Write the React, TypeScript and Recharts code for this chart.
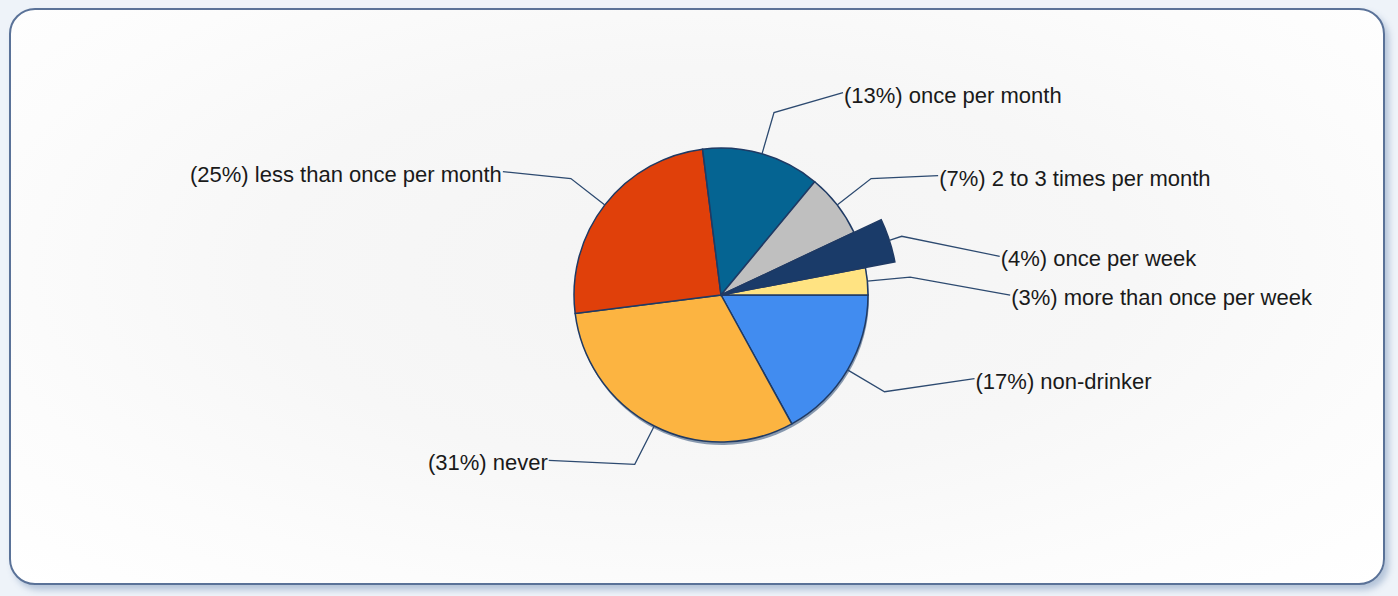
import { PieChart, Pie, Cell } from 'recharts';

const categories = [
  'non-drinker',
  'never',
  'less than once per month',
  'once per month',
  '2 to 3 times per month',
  'once per week',
  'more than once per week',
];
const percents = [17, 31, 25, 13, 7, 4, 3];
const colors = ['#418CF0', '#FCB441', '#E0400A', '#056492', '#BFBFBF', '#1A3B69', '#FFE382'];

// exploded slice drawn with a longer radius
const explodedIndex = 5;

// where each label's leader ends, relative to its elbow point
const labelOffsets: [number, number][] = [
  [90, -13],
  [-86, -4],
  [-68, -7],
  [69, -20],
  [67, -3],
  [98, 20],
  [100, 18],
];

const data = categories.map((name, i) => ({ name, value: percents[i] }));

const RAD = Math.PI / 180;
const OUTER = 147;
const EXPLODED_OUTER = 177;
const NO_MARGIN = { top: 0, right: 0, bottom: 0, left: 0 };

function point(cx: number, cy: number, r: number, angle: number) {
  return [cx + r * Math.cos(-angle * RAD), cy + r * Math.sin(-angle * RAD)];
}

function renderLabel(props: any) {
  const { cx, cy, midAngle, index } = props;
  const startR = index === explodedIndex ? EXPLODED_OUTER : OUTER;
  const [sx, sy] = point(cx, cy, startR, midAngle);
  const [ex, ey] = point(cx, cy, OUTER + 43, midAngle);
  const [dx, dy] = labelOffsets[index];
  const tx = ex + dx;
  const ty = ey + dy;
  const right = dx > 0;
  return (
    <g key={`lbl-${index}`}>
      <polyline
        points={`${sx},${sy} ${ex},${ey} ${tx},${ty}`}
        fill="none"
        stroke="#2d4a70"
        strokeWidth={1.3}
      />
      <text
        x={right ? tx + 1 : tx - 1}
        y={ty + 2.5}
        textAnchor={right ? 'start' : 'end'}
        dominantBaseline="central"
        fontFamily="'Liberation Sans', Arial, sans-serif"
        fontSize={22}
        fill="#1a1a1a"
      >
        {`(${percents[index]}%) ${categories[index]}`}
      </text>
    </g>
  );
}

export default function App() {
  return (
    <div
      style={{
        position: 'absolute',
        left: 0,
        top: 0,
        width: 1398,
        height: 596,
        background: '#eef3f9',
        overflow: 'hidden',
      }}
    >
      <div
        style={{
          position: 'absolute',
          left: 9,
          top: 8,
          width: 1372,
          height: 573,
          border: '2px solid #5a7298',
          borderRadius: 26,
          background:
            'radial-gradient(ellipse at 50% 45%, #f4f4f4 0%, #f7f7f7 45%, #fcfcfc 75%, #ffffff 100%)',
          boxShadow: '4px 5px 6px rgba(110,140,180,0.45)',
        }}
      />
      <div style={{ position: 'absolute', left: 0, top: 0 }}>
        <PieChart width={1398} height={596} margin={NO_MARGIN}>
          {/* soft rim below the pie */}
          <Pie
            data={data}
            dataKey="value"
            cx={722}
            cy={298}
            outerRadius={OUTER}
            startAngle={0}
            endAngle={-360}
            stroke="none"
            isAnimationActive={false}
          >
            {data.map((_, i) => (
              <Cell key={`s-${i}`} fill={i === explodedIndex ? 'none' : '#2b4a72'} fillOpacity={0.55} />
            ))}
          </Pie>
          <Pie
            data={data}
            dataKey="value"
            cx={721}
            cy={295}
            outerRadius={OUTER}
            startAngle={0}
            endAngle={-360}
            stroke="#1f3a64"
            strokeWidth={1.5}
            labelLine={false}
            label={renderLabel}
            isAnimationActive={false}
          >
            {data.map((_, i) => (
              <Cell
                key={`c-${i}`}
                fill={i === explodedIndex ? 'none' : colors[i]}
                stroke={i === explodedIndex ? 'none' : '#1f3a64'}
              />
            ))}
          </Pie>
          <Pie
            data={data}
            dataKey="value"
            cx={721}
            cy={295}
            outerRadius={EXPLODED_OUTER}
            startAngle={0}
            endAngle={-360}
            isAnimationActive={false}
          >
            {data.map((_, i) => (
              <Cell
                key={`e-${i}`}
                fill={i === explodedIndex ? colors[i] : 'none'}
                stroke={i === explodedIndex ? '#1f3a64' : 'none'}
                strokeWidth={1.5}
              />
            ))}
          </Pie>
        </PieChart>
      </div>
    </div>
  );
}
